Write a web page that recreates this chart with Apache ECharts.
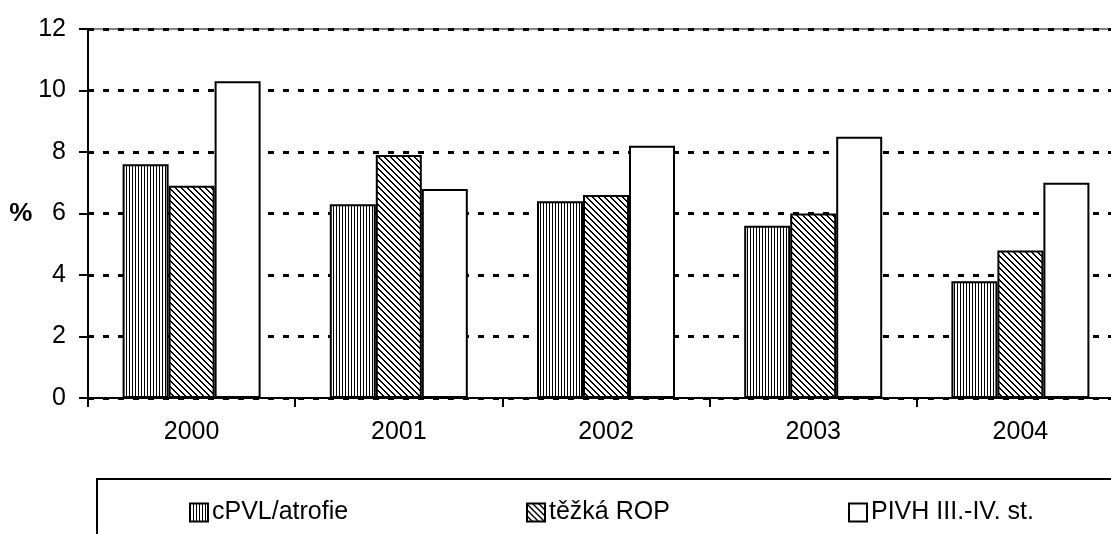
<!DOCTYPE html>
<html>
<head>
<meta charset="utf-8">
<script src="https://cdn.jsdelivr.net/npm/echarts@6/dist/echarts.min.js"></script>
<style>
  html, body { margin: 0; padding: 0; background: #fff; overflow: hidden; }
  /* plocha grafu pokracuje kousek za pravy okraj jako v originale */
  #chart { width: 1124px; height: 534px; }
</style>
</head>
<body>
<div id="chart"></div>
<script>
var years = ['2000', '2001', '2002', '2003', '2004'];
var seriesNames = ['cPVL/atrofie', 'těžká ROP', 'PIVH III.-IV. st.'];
var cpvl = [7.6, 6.3, 6.4, 5.6, 3.8];
var rop = [6.9, 7.9, 6.6, 6.0, 4.8];
var pivh = [10.3, 6.8, 8.2, 8.5, 7.0];

var FONT = '"Liberation Sans Narrow", "Liberation Sans", Arial, sans-serif';

// vzorek se svislymi carami
function stripes() {
    var c = document.createElement('canvas');
    c.width = 3; c.height = 3;
    var ctx = c.getContext('2d');
    ctx.fillStyle = '#fff';
    ctx.fillRect(0, 0, 3, 3);
    ctx.fillStyle = '#000';
    ctx.fillRect(0, 0, 1, 3);
    return c;
}

// vzorek se sikmymi carami "\"
function hatch() {
    var n = 6;
    var c = document.createElement('canvas');
    c.width = n; c.height = n;
    var ctx = c.getContext('2d');
    ctx.fillStyle = '#fff';
    ctx.fillRect(0, 0, n, n);
    ctx.fillStyle = '#000';
    for (var x = 0; x < n; x++) {
        for (var y = 0; y < n; y++) {
            var d = ((y - x) % n + n) % n;
            if (d === 0 || d === 1) ctx.fillRect(x, y, 1, 1);
        }
    }
    return c;
}

var fills = [
    { image: stripes(), repeat: 'repeat' },
    { image: hatch(), repeat: 'repeat' },
    '#ffffff'
];
var values = [cpvl, rop, pivh];

var chart = echarts.init(document.getElementById('chart'));

var option = {
    backgroundColor: '#fff',
    animation: false,
    grid: {
        left: 88, top: 29, bottom: 136, right: 0,
        show: true, borderColor: '#000', borderWidth: 1,
        backgroundColor: 'transparent'
    },
    legend: seriesNames.map(function (name, i) {
        return {
            data: [name],
            left: [189, 526, 848][i],
            top: 500,
            padding: 0,
            icon: 'rect',
            itemWidth: 18,
            itemHeight: 18,
            itemGap: 6,
            textStyle: { fontFamily: FONT, fontSize: 25, color: '#000', padding: [0, 0, 0, -1] }
        };
    }),
    graphic: [{
        type: 'rect',
        shape: { x: 97, y: 479, width: 1100, height: 100 },
        style: { fill: 'none', stroke: '#000', lineWidth: 2 },
        silent: true
    }],
    xAxis: {
        type: 'category',
        data: years,
        axisLine: { lineStyle: { color: '#000', width: 2 } },
        axisTick: { show: true, length: 9, lineStyle: { color: '#000', width: 2 } },
        axisLabel: { fontFamily: FONT, fontSize: 25, color: '#000', margin: 22 },
        splitLine: { show: false }
    },
    yAxis: {
        type: 'value',
        min: 0, max: 12, interval: 2,
        name: '%',
        nameLocation: 'middle',
        nameRotate: 0,
        nameGap: 55,
        nameTextStyle: { fontFamily: '"Liberation Sans", Arial, sans-serif', fontSize: 26, fontWeight: 'bold', color: '#000', align: 'right' },
        axisLine: { show: true, lineStyle: { color: '#000', width: 2 } },
        axisTick: { show: true, length: 9, lineStyle: { color: '#000', width: 2 } },
        axisLabel: { fontFamily: FONT, fontSize: 25, color: '#000', margin: 22 },
        splitLine: { show: true, lineStyle: { color: '#000', width: 3, type: [6, 9] } }
    },
    series: seriesNames.map(function (name, i) {
        return {
            name: name,
            type: 'bar',
            data: values[i],
            barWidth: 46,
            barGap: '0%',
            itemStyle: { color: fills[i], borderColor: '#000', borderWidth: 2 }
        };
    })
};

chart.setOption(option);

window.addEventListener('resize', function () {
    chart.resize();
});
</script>
</body>
</html>
